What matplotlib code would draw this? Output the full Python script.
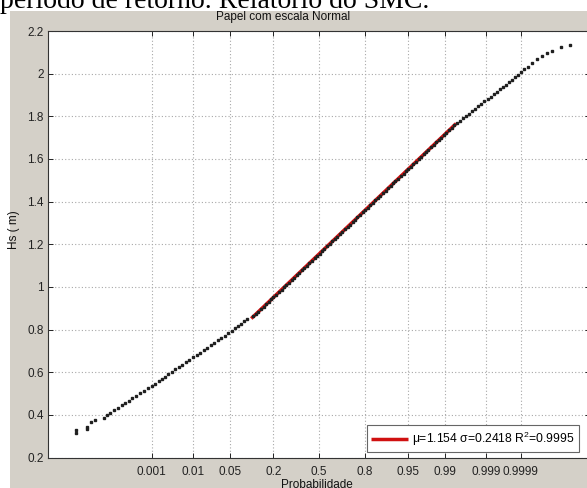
import matplotlib.pyplot as plt
import matplotlib.patches as mpatches
from statistics import NormalDist

# Hs (m) ordenados e o respectivo valor normal reduzido (z)
hs_tail_low = [0.316, 0.327, 0.335, 0.344, 0.365, 0.375, 0.386, 0.398, 0.409, 0.422, 0.433,
               0.445, 0.456, 0.467, 0.480, 0.490, 0.503, 0.514, 0.526, 0.537, 0.547, 0.557]
z_tail_low = [-4.48, -4.48, -4.28, -4.28, -4.21, -4.14, -3.97, -3.91, -3.85, -3.78, -3.71,
              -3.64, -3.58, -3.51, -3.45, -3.38, -3.31, -3.22, -3.15, -3.09, -3.02, -2.96]

hs_low = [0.568, 0.579, 0.590, 0.601, 0.613, 0.624, 0.635, 0.647, 0.658, 0.669, 0.681, 0.692, 0.703,
          0.715, 0.726, 0.737, 0.749, 0.760, 0.771, 0.783, 0.794, 0.805, 0.816, 0.828, 0.839, 0.850]
z_low = [-2.90, -2.84, -2.78, -2.72, -2.66, -2.59, -2.53, -2.46, -2.40, -2.33, -2.26, -2.20, -2.13,
         -2.06, -2.00, -1.93, -1.87, -1.80, -1.74, -1.67, -1.61, -1.55, -1.49, -1.43, -1.38, -1.32]

hs_mid = [0.862, 0.873, 0.884, 0.896, 0.907, 0.918, 0.930, 0.941, 0.952, 0.964,
          0.975, 0.986, 0.998, 1.009, 1.020, 1.032, 1.043, 1.054, 1.066, 1.077,
          1.088, 1.100, 1.111, 1.122, 1.134, 1.145, 1.156, 1.168, 1.179, 1.190,
          1.202, 1.213, 1.224, 1.236, 1.247, 1.258, 1.270, 1.281, 1.292, 1.304,
          1.315, 1.326, 1.338, 1.349, 1.360, 1.372, 1.383, 1.394, 1.406, 1.417,
          1.428, 1.440, 1.451, 1.462, 1.474, 1.485, 1.496, 1.508, 1.519, 1.530,
          1.542, 1.553, 1.564, 1.576, 1.587, 1.598, 1.610, 1.621, 1.632, 1.644,
          1.655, 1.666, 1.678, 1.689, 1.700, 1.712, 1.723, 1.734, 1.746, 1.757]
z_mid = [-1.21, -1.16, -1.12, -1.07, -1.02, -0.98, -0.93, -0.88, -0.84, -0.79,
         -0.74, -0.69, -0.65, -0.60, -0.55, -0.50, -0.46, -0.41, -0.36, -0.32,
         -0.27, -0.22, -0.18, -0.13, -0.08, -0.04, 0.01, 0.06, 0.10, 0.15,
         0.20, 0.24, 0.29, 0.34, 0.38, 0.43, 0.48, 0.53, 0.57, 0.62,
         0.67, 0.71, 0.76, 0.81, 0.85, 0.90, 0.95, 0.99, 1.04, 1.09,
         1.13, 1.18, 1.23, 1.27, 1.32, 1.37, 1.41, 1.46, 1.51, 1.56,
         1.60, 1.65, 1.70, 1.74, 1.79, 1.84, 1.88, 1.93, 1.98, 2.02,
         2.07, 2.12, 2.16, 2.21, 2.26, 2.30, 2.35, 2.40, 2.45, 2.49]

hs_high = [1.768, 1.780, 1.791, 1.802, 1.813, 1.825, 1.836, 1.847, 1.858, 1.870, 1.881,
           1.892, 1.904, 1.915, 1.926, 1.938, 1.949, 1.960, 1.972, 1.983, 1.994, 2.006]
z_high = [2.55, 2.60, 2.66, 2.71, 2.77, 2.83, 2.88, 2.94, 2.99, 3.05, 3.11,
          3.17, 3.22, 3.28, 3.34, 3.39, 3.45, 3.51, 3.56, 3.62, 3.67, 3.72]

hs_tail_high = [2.021, 2.033, 2.049, 2.067, 2.083, 2.096, 2.108, 2.124, 2.134]
z_tail_high = [3.78, 3.85, 3.93, 4.02, 4.11, 4.21, 4.29, 4.46, 4.63]

# ajuste normal
fit_mu = 1.154
fit_sigma = 0.2418
fit_r2 = 0.9995
fit_z = [-1.25, 2.53]

prob_ticks = [0.001, 0.01, 0.05, 0.2, 0.5, 0.8, 0.95, 0.99, 0.999, 0.9999]
prob_labels = ['0.001', '0.01', '0.05', '0.2', '0.5', '0.8', '0.95', '0.99', '0.999', '0.9999']
hs_ticks = [0.2, 0.4, 0.6, 0.8, 1.0, 1.2, 1.4, 1.6, 1.8, 2.0, 2.2]
hs_labels = ['0.2', '0.4', '0.6', '0.8', '1', '1.2', '1.4', '1.6', '1.8', '2', '2.2']

plt.rcParams['font.family'] = ['Liberation Sans', 'DejaVu Sans']
plt.rcParams['mathtext.fontset'] = 'custom'
plt.rcParams['mathtext.rm'] = 'Liberation Sans'
plt.rcParams['mathtext.default'] = 'regular'

W, H = 587, 488
fig = plt.figure(figsize=(W / 100, H / 100), dpi=100)
fig.patch.set_facecolor('white')

# fundo cinzento da janela
fig.add_artist(mpatches.Rectangle((10 / W, 0), 1, 1 - 11 / H, transform=fig.transFigure,
                                  facecolor='#d4d0c8', edgecolor='none', zorder=0))

# texto do relatorio cortado no topo
fig.text(0 / W, 1 - 8 / H, 'período de retorno. Relatório do SMC.', family='Liberation Serif',
         fontsize=20, ha='left', va='baseline', color='black')

ax = fig.add_axes([48 / W, 1 - 457.5 / H, 542 / W, (457.5 - 31) / H])
ax.set_facecolor('white')

zz = z_tail_low + z_low + z_mid + z_high + z_tail_high
hh = hs_tail_low + hs_low + hs_mid + hs_high + hs_tail_high

fit_line = [fit_mu + fit_sigma * v for v in fit_z]
label = 'μ=%.3f σ=%.4f R$^2$=%.4f' % (fit_mu, fit_sigma, fit_r2)
ax.plot(fit_z, fit_line, color='#d01010', lw=2.5, solid_capstyle='butt', label=label, zorder=2)
ax.plot(zz, hh, ls='none', marker='s', ms=1.5, mec='#202020', mfc='#202020', zorder=3)

nd = NormalDist()
ax.set_xticks([nd.inv_cdf(p) for p in prob_ticks])
ax.set_xticklabels(prob_labels)
ax.set_yticks(hs_ticks)
ax.set_yticklabels(hs_labels)
ax.set_xlim(-5, 5)
ax.set_ylim(0.2, 2.2)

ax.grid(True, color='#a8a8a8', linestyle=(0, (1, 2)), lw=0.8)
ax.tick_params(direction='in', length=3.5, width=0.7, top=True, right=True,
               labelsize=8.5, colors='#222222')
ax.tick_params(axis='x', pad=6)
ax.tick_params(axis='y', pad=3)
for s in ax.spines.values():
    s.set_color('#333333')
    s.set_linewidth(0.8)

fig.text(283 / W, 1 - 17 / H, 'Papel com escala Normal', fontsize=8.5, ha='center', va='center',
         color='#111111')
fig.text(317 / W, 1 - 485 / H, 'Probabilidade', fontsize=8.5, ha='center', va='center',
         color='#111111')
fig.text(14 / W, 1 - 230 / H, 'Hs ( m)', fontsize=8.5, ha='center', va='center',
         rotation=90, color='#111111')

leg = ax.legend(loc='lower right', bbox_to_anchor=(579 / W, 1 - 452 / H),
                bbox_transform=fig.transFigure, borderaxespad=0, fontsize=8.7,
                fancybox=False, framealpha=1, edgecolor='#666666',
                handlelength=3.0, handletextpad=0.4, borderpad=0.35)
leg.get_frame().set_linewidth(0.8)

fig.savefig('out.png', dpi=100, facecolor=fig.get_facecolor())
